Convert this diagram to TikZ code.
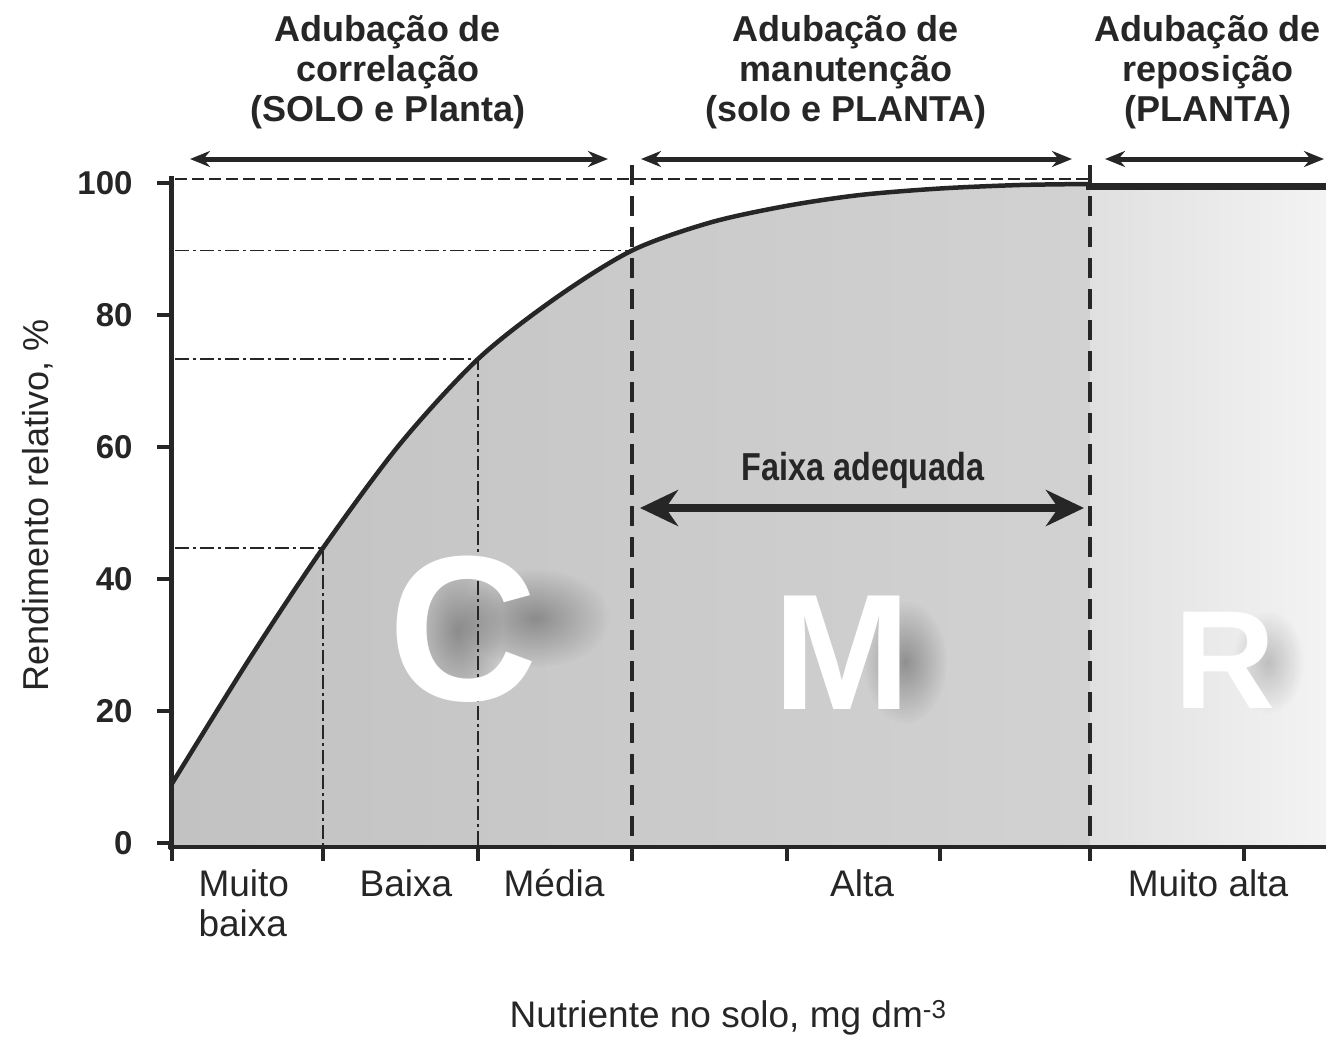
\documentclass[tikz,border=0pt]{standalone}
\usepackage{fontspec}
\setmainfont{Liberation Sans}
\usetikzlibrary{arrows.meta,fadings}
\definecolor{ink}{HTML}{262626}
\definecolor{fillL}{HTML}{C2C2C2}
\definecolor{fillR}{HTML}{D2D2D2}
\definecolor{zoneL}{HTML}{E0E0E0}
\definecolor{zoneR}{HTML}{F3F3F3}
\newcommand{\fsz}[2]{\fontsize{#1}{#2}\selectfont}
\tikzfading[name=softblob,inner color=transparent!0,outer color=transparent!100]
\begin{document}
\begin{tikzpicture}[x=1pt,y=-1pt,
  axisline/.style={draw=ink,line width=5pt},
  tickline/.style={draw=ink,line width=3.5pt},
  guide/.style={draw=ink,line width=1.4pt,dash pattern=on 14pt off 4pt on 3pt off 4pt},
  bounddash/.style={draw=ink,line width=4.5pt,dash pattern=on 20pt off 11pt},
  toparrow/.style={draw=ink,line width=5pt,{Stealth[length=20pt,width=16pt]}-{Stealth[length=20pt,width=16pt]}},
  header/.style={text=ink,align=center,font=\bfseries\fsz{36}{40}},
  ticklab/.style={text=ink,anchor=east,font=\bfseries\fsz{33}{36}},
  catlab/.style={text=ink,align=left,font=\fsz{37}{40}},
  bigletter/.style={text=white,font=\bfseries\fsz{#1}{#1}},
  blob/.style={fill=black,opacity=#1,path fading=softblob},
]
% canvas
\fill[white] (0,0) rectangle (1326,1039);
\useasboundingbox (0,0) rectangle (1326,1039);

% area under curve
\shade[left color=fillL,right color=fillR]
  (172,845) -- plot[smooth] coordinates {(172,783.6) (250,658) (323,548) (400,444) (478,359) (555,298.5) (632,250.5) (710,222.6) (786,206) (860,195) (940,188.5) (1020,185) (1090,184)}
  -- (1090,845) -- cycle;
% replacement zone
\shade[left color=zoneL,right color=zoneR] (1090,186) rectangle (1326,845);

% soft shadows of the big letters
\fill[blob=0.30] (535,618) ellipse (75 and 50);
\fill[blob=0.30] (458,630) ellipse (44 and 70);
\fill[blob=0.30] (905,662) ellipse (42 and 62);
\fill[blob=0.20] (1268,662) ellipse (36 and 52);

% guide lines
\coordinate (yA) at (175,548);  \coordinate (cA) at (323,548);
\coordinate (yB) at (175,359);  \coordinate (cB) at (478,359);
\coordinate (yC) at (175,250.5);\coordinate (cC) at (632,250.5);
\draw[guide] (yA) -- (cA) -- (323,845);
\draw[guide] (yB) -- (cB) -- (478,845);
\draw[guide] (yC) -- (cC);
\draw[draw=ink,line width=2pt,dash pattern=on 12pt off 5pt] (175,179) -- (1090,179);

% response curve
\draw[draw=ink,line width=4.5pt,line join=round]
  plot[smooth] coordinates {(172,783.6) (250,658) (323,548) (400,444) (478,359) (555,298.5) (632,250.5) (710,222.6) (786,206) (860,195) (940,188.5) (1020,185) (1090,184)};
\draw[draw=ink,line width=7pt] (1086,186) -- (1326,186);

% boundaries
\draw[bounddash] (632,165) -- (632,845);
\draw[bounddash] (1090,165) -- (1090,845);

% axes
\draw[axisline] (171,176) -- (171,850);
\draw[draw=ink,line width=4pt] (168,847) -- (1326,847);
\foreach \yy in {183,315,447,579,711,843} \draw[tickline] (157,\yy) -- (171,\yy);
\foreach \xx in {172,323,478,632,787,940,1090,1244} \draw[tickline] (\xx,847) -- (\xx,861);

% tick labels
\node[ticklab] (t100) at (136,183) {100};
\node[ticklab] (t80) at (136,315) {80};
\node[ticklab] (t60) at (136,447) {60};
\node[ticklab] (t40) at (136,579) {40};
\node[ticklab] (t20) at (136,711) {20};
\node[ticklab] (t0) at (136,843) {0};

% big letters
\node[bigletter=207] (C) at (463,629) {C};
\node[bigletter=165] (M) at (842,653) {M};
\node[bigletter=140] (R) at (1225,660) {R};

% adequate range
\coordinate (fa1) at (640,508);
\coordinate (fa2) at (1084,508);
\draw[draw=ink,line width=8pt,{Stealth[length=38pt,width=36pt]}-{Stealth[length=38pt,width=36pt]}] (fa1) -- (fa2);
\node[text=ink,font=\bfseries\fsz{39}{40},xscale=0.83,transform shape] (faixa) at (863,470) {Faixa adequada};

% headers and top arrows
\node[header] (h1) at (388,72) {Adubação de\\correlação\\(SOLO e Planta)};
\node[header] (h2) at (846,72) {Adubação de\\manutenção\\(solo e PLANTA)};
\node[header] (h3) at (1208,72) {Adubação de\\reposição\\(PLANTA)};
\coordinate (a1l) at (190,159); \coordinate (a1r) at (608,159);
\coordinate (a2l) at (641,159); \coordinate (a2r) at (1072,159);
\coordinate (a3l) at (1105,159); \coordinate (a3r) at (1324,159);
\draw[toparrow] (a1l) -- (a1r);
\draw[toparrow] (a2l) -- (a2r);
\draw[toparrow] (a3l) -- (a3r);

% category labels
\node[catlab,anchor=north west] (mb) at (195,866) {Muito\\baixa};
\node[catlab,anchor=north] (bx) at (406,866) {Baixa};
\node[catlab,anchor=north] (md) at (554,866) {Média};
\node[catlab,anchor=north] (al) at (862,866) {Alta};
\node[catlab,anchor=north] (ma) at (1208,866) {Muito alta};

% axis titles
\node[text=ink,font=\fsz{37}{40}] (xt) at (728,1018) {Nutriente no solo, mg dm\textsuperscript{-3}};
\node[text=ink,font=\fsz{36}{40},rotate=90] (yt) at (38,505) {Rendimento relativo, \%};
\end{tikzpicture}
\end{document}
